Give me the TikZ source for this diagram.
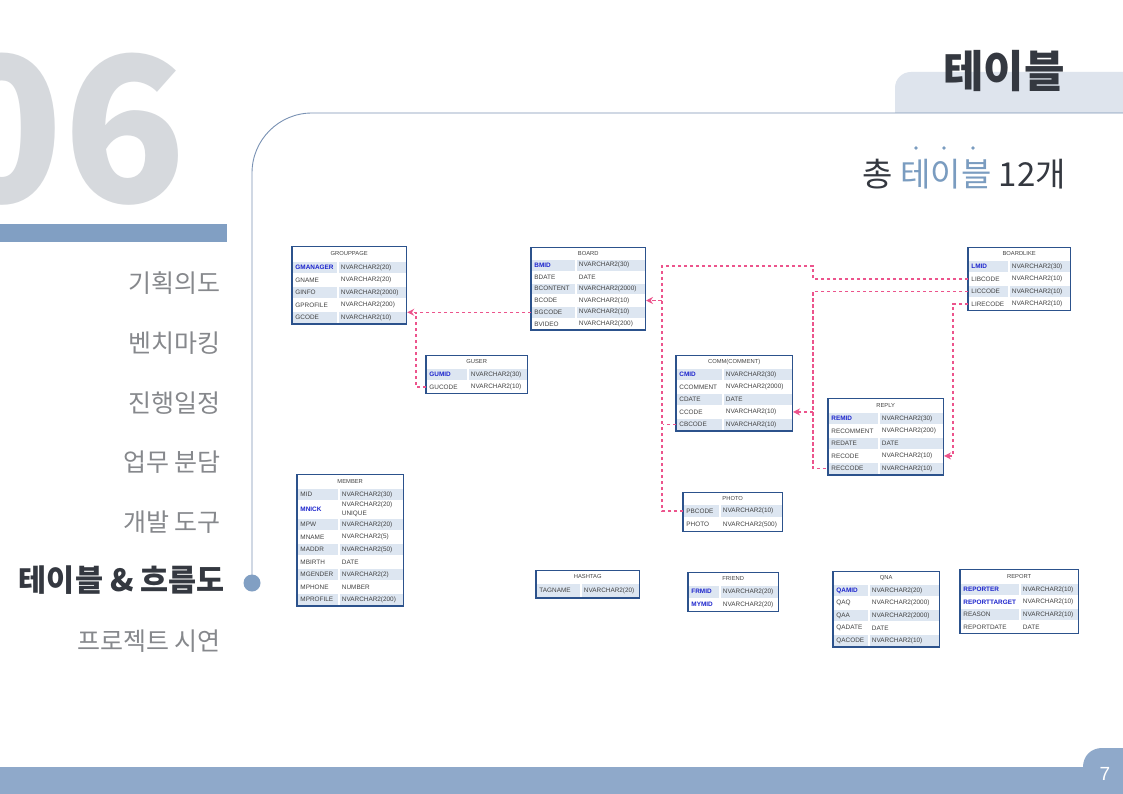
\documentclass[tikz,border=0pt]{standalone}
\usepackage{fontspec}
\setmainfont{Liberation Sans}
\newfontfamily\kr{Noto Sans CJK KR}
\usetikzlibrary{matrix,positioning,fit,arrows.meta,calc}

\definecolor{tblblue}{RGB}{44,82,140}
\definecolor{rowblue}{RGB}{221,230,241}
\definecolor{keyblue}{RGB}{28,36,205}
\definecolor{celltext}{RGB}{66,66,66}
\definecolor{fkpink}{RGB}{236,84,140}
\definecolor{barblue}{RGB}{129,159,195}
\definecolor{footblue}{RGB}{143,169,202}
\definecolor{framegray}{RGB}{122,146,180}
\definecolor{tabgray}{RGB}{222,228,237}
\definecolor{menugray}{RGB}{134,136,140}
\definecolor{headdark}{RGB}{52,56,64}
\definecolor{numgray}{RGB}{214,217,221}
\definecolor{titleblue}{RGB}{122,156,192}

\newcommand\keyf[1]{{\bfseries\color{keyblue}#1}}

\begin{document}
\begin{tikzpicture}%
	[x=1pt, y=-1pt,
	tbl/.style = {matrix of nodes, inner sep=0pt, row sep=0pt, column sep=0pt,
		nodes={font=\fontsize{6.4}{7.6}\selectfont, text=celltext, draw=white, line width=0.5pt,
			inner xsep=3pt, inner ysep=0pt, minimum height=12pt, align=left, anchor=center},
		row 1/.style={nodes={fill=rowblue}}, row 3/.style={nodes={fill=rowblue}},
		row 5/.style={nodes={fill=rowblue}}, row 7/.style={nodes={fill=rowblue}},
		row 9/.style={nodes={fill=rowblue}}},
	ttl/.style = {fill=white, inner sep=0pt, text=celltext, font=\fontsize{5.8}{6.5}\selectfont},
	frame/.style = {draw=tblblue, line width=1.6pt, inner sep=0pt},
	fk/.style = {draw=fkpink, line width=1.3pt, dash pattern=on 3.5pt off 2.5pt, shorten >=0.8pt},
	menu/.style = {anchor=base east, inner sep=0pt, text=menugray, font=\kr\fontsize{25}{25}\selectfont},
	>={Stealth[length=7pt,width=7pt]}]

	\path[use as bounding box, clip] (0,0) rectangle (1123,794);
	\fill[white] (0,0) rectangle (1123,794);

	% page frame
	\node[anchor=base east, inner sep=0pt, text=numgray, font=\kr\bfseries\fontsize{202}{202}\selectfont] (secnum) at (187,203) {06};
	\fill[barblue] (0,224) rectangle (227,242);
	\fill[tabgray] (895,113) -- (895,88) .. controls (895,79) and (902,72) .. (911,72) -- (1123,72) -- (1123,113) -- cycle;
	\draw[framegray, line width=0.9pt, rounded corners=60pt] (252,583) |- (1123,113);
	\fill[barblue] (252,583) circle (8.5pt);
	\fill[footblue] (0,767) rectangle (1123,794);
	\fill[footblue] (1083,767) .. controls (1083,756) and (1091,748) .. (1102,748) -- (1123,748) -- (1123,767) -- cycle;
	\node[text=white, font=\fontsize{19}{19}\selectfont] (pagenum) at (1105,774) {7};

	\node[anchor=base, inner sep=0pt, text=headdark, font=\kr\bfseries\fontsize{44}{44}\selectfont] (pagetitle) at (1004,88) {테이블};
	\node[anchor=base east, inner sep=0pt, text=headdark, font=\kr\fontsize{33}{33}\selectfont] (tblcount) at (1066,187) {총 \textcolor{titleblue}{테이블} 12개};
	\foreach \dx in {916,944,973} \fill[titleblue] (\dx,148) circle (1.8pt);

	% menu
	\node[menu] (m1) at (221,292) {기획의도};
	\node[menu] (m2) at (221,352) {벤치마킹};
	\node[menu] (m3) at (221,412) {진행일정};
	\node[menu] (m4) at (221,471) {업무 분담};
	\node[menu] (m5) at (221,531) {개발 도구};
	\node[menu, text=headdark, font=\kr\bfseries\fontsize{30.5}{30.5}\selectfont] (m6) at (225,591) {테이블 \& 흐름도};
	\node[menu] (m7) at (221,650) {프로젝트 시연};

	% tables
	\matrix (groupp) [tbl, column 1/.style={nodes={text width=39pt}}, column 2/.style={nodes={text width=62pt}}, at={(292,261)}, anchor=north west] {
		\keyf{GMANAGER} & NVARCHAR2(20) \\
		GNAME & NVARCHAR2(20) \\
		GINFO & NVARCHAR2(2000) \\
		GPROFILE & NVARCHAR2(200) \\
		GCODE & NVARCHAR2(10) \\
	};
	\node[ttl, minimum width=113pt, minimum height=14pt, above=0pt of groupp] (grouppT) {GROUPPAGE};
	\node[frame, fit=(grouppT)(groupp)] (grouppF) {};

	\matrix (guser) [tbl, column 1/.style={nodes={text width=35pt}}, column 2/.style={nodes={text width=53pt}}, at={(426,368)}, anchor=north west] {
		\keyf{GUMID} & NVARCHAR2(30) \\
		GUCODE & NVARCHAR2(10) \\
	};
	\node[ttl, minimum width=100pt, minimum height=12pt, above=0pt of guser] (guserT) {GUSER};
	\node[frame, fit=(guserT)(guser)] (guserF) {};

	\matrix (board) [tbl, column 1/.style={nodes={text width=38pt}}, column 2/.style={nodes={text width=63pt}}, nodes={minimum height=11.3pt}, at={(531,259)}, anchor=north west] {
		\keyf{BMID} & NVARCHAR2(30) \\
		BDATE & DATE \\
		BCONTENT & NVARCHAR2(2000) \\
		BCODE & NVARCHAR2(10) \\
		BGCODE & NVARCHAR2(10) \\
		BVIDEO & NVARCHAR2(200) \\
	};
	\node[ttl, minimum width=113pt, minimum height=11pt, above=0pt of board] (boardT) {BOARD};
	\node[frame, fit=(boardT)(board)] (boardF) {};

	\matrix (comm) [tbl, column 1/.style={nodes={text width=40pt}}, column 2/.style={nodes={text width=63pt}}, at={(676,368)}, anchor=north west] {
		\keyf{CMID} & NVARCHAR2(30) \\
		CCOMMENT & NVARCHAR2(2000) \\
		CDATE & DATE \\
		CCODE & NVARCHAR2(10) \\
		CBCODE & NVARCHAR2(10) \\
	};
	\node[ttl, minimum width=115pt, minimum height=12pt, above=0pt of comm] (commT) {COMM(COMMENT)};
	\node[frame, fit=(commT)(comm)] (commF) {};

	\matrix (boardlike) [tbl, column 1/.style={nodes={text width=34pt}}, column 2/.style={nodes={text width=55pt}}, at={(968,260)}, anchor=north west] {
		\keyf{LMID} & NVARCHAR2(30) \\
		LIBCODE & NVARCHAR2(10) \\
		LICCODE & NVARCHAR2(10) \\
		LIRECODE & NVARCHAR2(10) \\
	};
	\node[ttl, minimum width=101pt, minimum height=12pt, above=0pt of boardlike] (boardlikeT) {BOARDLIKE};
	\node[frame, fit=(boardlikeT)(boardlike)] (boardlikeF) {};

	\matrix (reply) [tbl, column 1/.style={nodes={text width=44pt}}, column 2/.style={nodes={text width=58pt}}, at={(828,412)}, anchor=north west] {
		\keyf{REMID} & NVARCHAR2(30) \\
		RECOMMENT & NVARCHAR2(200) \\
		REDATE & DATE \\
		RECODE & NVARCHAR2(10) \\
		RECCODE & NVARCHAR2(10) \\
	};
	\node[ttl, minimum width=114pt, minimum height=13pt, above=0pt of reply] (replyT) {REPLY};
	\node[frame, fit=(replyT)(reply)] (replyF) {};

	\matrix (member) [tbl, column 1/.style={nodes={text width=35pt}}, column 2/.style={nodes={text width=58pt}}, row 2/.style={nodes={minimum height=17pt}}, at={(297,488)}, anchor=north west] {
		MID & NVARCHAR2(30) \\
		\keyf{MNICK} & {NVARCHAR2(20)\\[1.2pt]UNIQUE} \\
		MPW & NVARCHAR2(20) \\
		MNAME & NVARCHAR2(5) \\
		MADDR & NVARCHAR2(50) \\
		MBIRTH & DATE \\
		MGENDER & NVARCHAR2(2) \\
		MPHONE & NUMBER \\
		MPROFILE & NVARCHAR2(200) \\
	};
	\node[ttl, minimum width=105pt, minimum height=13pt, above=0pt of member] (memberT) {MEMBER};
	\node[frame, fit=(memberT)(member)] (memberF) {};

	\matrix (photo) [tbl, column 1/.style={nodes={text width=30pt}}, column 2/.style={nodes={text width=56pt}}, nodes={minimum height=13pt}, at={(683,504)}, anchor=north west] {
		PBCODE & NVARCHAR2(10) \\
		PHOTO & NVARCHAR2(500) \\
	};
	\node[ttl, minimum width=98pt, minimum height=11pt, above=0pt of photo] (photoT) {PHOTO};
	\node[frame, fit=(photoT)(photo)] (photoF) {};

	\matrix (hashtag) [tbl, column 1/.style={nodes={text width=38pt}}, column 2/.style={nodes={text width=52pt}}, nodes={minimum height=14pt}, at={(536,583)}, anchor=north west] {
		TAGNAME & NVARCHAR2(20) \\
	};
	\node[ttl, minimum width=102pt, minimum height=12pt, above=0pt of hashtag] (hashtagT) {HASHTAG};
	\node[frame, fit=(hashtagT)(hashtag)] (hashtagF) {};

	\matrix (friend) [tbl, column 1/.style={nodes={text width=25pt}}, column 2/.style={nodes={text width=52pt}}, nodes={minimum height=12.5pt}, at={(688,585)}, anchor=north west] {
		\keyf{FRMID} & NVARCHAR2(20) \\
		\keyf{MYMID} & NVARCHAR2(20) \\
	};
	\node[ttl, minimum width=89pt, minimum height=12pt, above=0pt of friend] (friendT) {FRIEND};
	\node[frame, fit=(friendT)(friend)] (friendF) {};

	\matrix (qna) [tbl, column 1/.style={nodes={text width=29pt}}, column 2/.style={nodes={text width=64pt}}, at={(833,584)}, anchor=north west] {
		\keyf{QAMID} & NVARCHAR2(20) \\
		QAQ & NVARCHAR2(2000) \\
		QAA & NVARCHAR2(2000) \\
		QADATE & DATE \\
		QACODE & NVARCHAR2(10) \\
	};
	\node[ttl, minimum width=105pt, minimum height=12pt, above=0pt of qna] (qnaT) {QNA};
	\node[frame, fit=(qnaT)(qna)] (qnaF) {};

	\matrix (report) [tbl, column 1/.style={nodes={text width=53pt}}, column 2/.style={nodes={text width=52pt}}, at={(960,583)}, anchor=north west] {
		\keyf{REPORTER} & NVARCHAR2(10) \\
		\keyf{REPORTTARGET} & NVARCHAR2(10) \\
		REASON & NVARCHAR2(10) \\
		REPORTDATE & DATE \\
	};
	\node[ttl, minimum width=117pt, minimum height=13pt, above=0pt of report] (reportT) {REPORT};
	\node[frame, fit=(reportT)(report)] (reportF) {};

	% foreign keys
	\coordinate (gbus) at (416,0);
	\coordinate (bbus) at (662,266);
	\coordinate (tbus) at (813,266);
	\coordinate (rbus) at (953,0);

	\draw[fk,->] (board-5-1.west) -- (board-5-1.west -| groupp.east);
	\draw[fk] (guser-2-1.west) -| (gbus |- board-5-1.west);

	\draw[fk,->] (boardlike-2-1.west) -| (tbus) -- (bbus) |- (board-4-2.east);
	\draw[fk] (photo-1-1.west) -| (bbus |- board-4-2.east);
	\draw[fk] (comm-5-1.west) -- (comm-5-1.west -| bbus);

	\draw[fk] (boardlike-3-1.west) -| (tbus |- reply-5-1.west) -- (reply-5-1.west);
	\draw[fk,->] (tbus |- comm-4-2.east) -- (comm-4-2.east);
	\draw[fk,->] (boardlike-4-1.west) -| (rbus |- reply-4-2.east) -- (reply-4-2.east);
\end{tikzpicture}
\end{document}
